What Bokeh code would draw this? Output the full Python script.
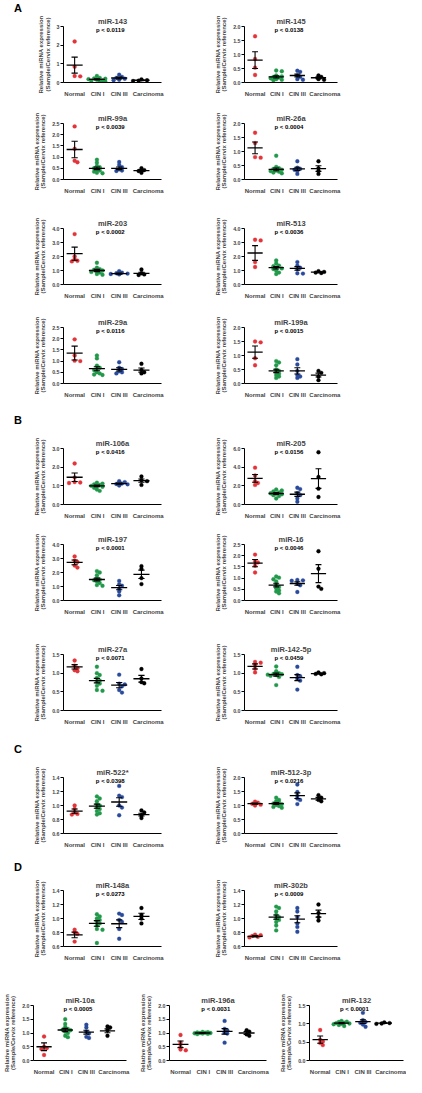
from bokeh.plotting import figure
from bokeh.layouts import column, row
from bokeh.models import Range1d, FixedTicker, NumeralTickFormatter, Label, Div
from bokeh.embed import file_html
from bokeh.resources import INLINE

CATEGORIES = ["Normal", "CIN I", "CIN III", "Carcinoma"]
LABEL_POS = [1.0, 2.03, 3.0, 4.3]
GROUP_COLORS = ["#e3343a", "#22994a", "#2a4a9c", "#000000"]
FONT = "Liberation Sans"
Y_TITLE = "Relative miRNA expression\n(Sample/Cervix reference)"

# ---------------- data (groups: Normal, CIN I, CIN III, Carcinoma) ----------------
mir143 = [[2.2, 0.85, 0.35, 0.33],
          [0.35, 0.25, 0.22, 0.2, 0.18, 0.15, 0.12, 0.1, 0.08, 0.05],
          [0.42, 0.3, 0.25, 0.2, 0.15, 0.12],
          [0.17, 0.12, 0.1, 0.08]]
mir143_mean = [0.93, 0.17, 0.24, 0.12]
mir143_sem = [0.43, 0.03, 0.05, 0.02]

mir145 = [[1.65, 0.84, 0.53, 0.27],
          [0.43, 0.4, 0.25, 0.22, 0.2, 0.18, 0.15, 0.12, 0.1, 0.08],
          [0.42, 0.38, 0.25, 0.2, 0.12, 0.1],
          [0.25, 0.2, 0.12, 0.1]]
mir145_mean = [0.8, 0.2, 0.25, 0.17]
mir145_sem = [0.3, 0.04, 0.05, 0.03]

mir99a = [[2.37, 1.37, 0.84, 0.77],
          [0.88, 0.75, 0.6, 0.55, 0.5, 0.45, 0.4, 0.35, 0.3, 0.28],
          [0.78, 0.65, 0.55, 0.45, 0.4, 0.38],
          [0.5, 0.42, 0.38, 0.3]]
mir99a_mean = [1.34, 0.5, 0.5, 0.4]
mir99a_sem = [0.37, 0.06, 0.06, 0.04]

mir26a = [[1.67, 1.3, 0.8, 0.78],
          [0.85, 0.45, 0.4, 0.38, 0.35, 0.32, 0.3, 0.28, 0.25, 0.22],
          [0.65, 0.42, 0.38, 0.35, 0.3, 0.2],
          [0.65, 0.4, 0.3, 0.2]]
mir26a_mean = [1.13, 0.36, 0.38, 0.39]
mir26a_sem = [0.21, 0.05, 0.06, 0.1]

mir203 = [[3.6, 2.0, 1.8, 1.7, 1.65],
          [1.55, 1.2, 1.1, 1.05, 1.0, 0.95, 0.9, 0.85, 0.75, 0.7],
          [0.95, 0.85, 0.8, 0.78, 0.75, 0.72],
          [1.07, 0.8, 0.72, 0.68]]
mir203_mean = [2.2, 1.0, 0.78, 0.8]
mir203_sem = [0.47, 0.08, 0.04, 0.08]

mir513 = [[3.2, 3.15, 1.6, 1.25],
          [1.72, 1.5, 1.35, 1.3, 1.2, 1.15, 1.1, 1.0, 0.85, 0.75],
          [1.6, 1.35, 1.2, 1.1, 0.8, 0.78],
          [0.95, 0.9, 0.85, 0.82]]
mir513_mean = [2.25, 1.2, 1.15, 0.88]
mir513_sem = [0.53, 0.09, 0.13, 0.03]

mir29a = [[1.97, 1.25, 1.02, 1.0],
          [1.25, 1.12, 0.8, 0.7, 0.65, 0.6, 0.5, 0.45, 0.4, 0.38],
          [0.95, 0.7, 0.65, 0.55, 0.5, 0.45],
          [0.88, 0.6, 0.5, 0.45]]
mir29a_mean = [1.36, 0.66, 0.63, 0.6]
mir29a_sem = [0.31, 0.09, 0.07, 0.09]

mir199a = [[1.5, 1.47, 0.9, 0.65],
           [0.8, 0.75, 0.65, 0.5, 0.45, 0.4, 0.35, 0.3, 0.25, 0.2],
           [0.87, 0.68, 0.45, 0.3, 0.25, 0.2],
           [0.45, 0.38, 0.25, 0.12]]
mir199a_mean = [1.12, 0.45, 0.45, 0.3]
mir199a_sem = [0.22, 0.06, 0.11, 0.07]

mir106a = [[2.2, 1.45, 1.2, 1.18, 1.15],
           [1.17, 1.12, 1.08, 1.05, 1.0, 0.98, 0.95, 0.9, 0.8, 0.73],
           [1.25, 1.2, 1.12, 1.1, 1.08, 1.02],
           [1.5, 1.3, 1.25, 1.05]]
mir106a_mean = [1.46, 1.0, 1.12, 1.28]
mir106a_sem = [0.23, 0.04, 0.03, 0.09]

mir205 = [[3.95, 3.1, 2.5, 2.3, 2.1],
          [1.6, 1.5, 1.4, 1.3, 1.2, 1.15, 1.1, 1.0, 0.9, 0.65],
          [1.8, 1.65, 1.2, 1.0, 0.65, 0.3],
          [5.6, 2.95, 1.7, 0.8]]
mir205_mean = [2.8, 1.18, 1.1, 2.78]
mir205_sem = [0.42, 0.09, 0.23, 1.05]

mir197 = [[3.15, 2.85, 2.75, 2.5, 2.35],
          [2.1, 2.0, 1.8, 1.6, 1.5, 1.45, 1.35, 1.25, 1.1, 1.05],
          [1.4, 1.15, 1.05, 0.85, 0.65, 0.37],
          [2.45, 2.25, 1.6, 1.17]]
mir197_mean = [2.72, 1.5, 0.92, 1.87]
mir197_sem = [0.17, 0.1, 0.15, 0.3]

mir16 = [[2.05, 1.75, 1.7, 1.55, 1.25],
         [1.07, 1.02, 0.95, 0.85, 0.7, 0.6, 0.55, 0.45, 0.4, 0.32],
         [0.92, 0.9, 0.88, 0.75, 0.68, 0.38],
         [2.2, 1.42, 0.62, 0.52]]
mir16_mean = [1.67, 0.69, 0.76, 1.2]
mir16_sem = [0.16, 0.08, 0.08, 0.4]

mir27a = [[1.34, 1.2, 1.13, 1.08, 1.05],
          [1.17, 1.0, 0.95, 0.87, 0.8, 0.77, 0.72, 0.66, 0.55, 0.53],
          [0.96, 0.72, 0.7, 0.65, 0.55, 0.48],
          [1.11, 0.86, 0.76, 0.73]]
mir27a_mean = [1.17, 0.8, 0.68, 0.85]
mir27a_sem = [0.06, 0.06, 0.07, 0.09]

mir142 = [[1.3, 1.28, 1.22, 1.12, 1.02],
          [1.18, 1.05, 1.0, 0.98, 0.97, 0.96, 0.95, 0.93, 0.9, 0.68],
          [1.17, 0.95, 0.92, 0.85, 0.8, 0.56],
          [1.02, 1.0, 0.98, 0.97]]
mir142_mean = [1.18, 0.96, 0.88, 0.99]
mir142_sem = [0.07, 0.04, 0.08, 0.01]

mir522 = [[1.0, 0.95, 0.9, 0.88, 0.87],
          [1.13, 1.1, 1.06, 1.02, 1.0, 0.97, 0.95, 0.92, 0.89, 0.87],
          [1.28, 1.14, 1.12, 1.0, 0.97, 0.86],
          [0.93, 0.9, 0.86, 0.82]]
mir522_mean = [0.92, 0.99, 1.05, 0.87]
mir522_sem = [0.03, 0.03, 0.06, 0.02]

mir512 = [[1.14, 1.1, 1.06, 1.03, 1.0],
          [1.28, 1.2, 1.15, 1.1, 1.07, 1.05, 1.02, 0.98, 0.95, 0.92],
          [1.75, 1.48, 1.35, 1.25, 1.2, 1.05],
          [1.37, 1.28, 1.2, 1.15]]
mir512_mean = [1.07, 1.07, 1.35, 1.24]
mir512_sem = [0.02, 0.035, 0.1, 0.05]

mir148a = [[0.84, 0.8, 0.78, 0.67],
           [1.06, 1.03, 1.0, 0.98, 0.96, 0.93, 0.9, 0.85, 0.84, 0.65],
           [1.07, 1.05, 0.98, 0.95, 0.85, 0.71],
           [1.15, 1.05, 1.0, 0.93]]
mir148a_mean = [0.765, 0.93, 0.925, 1.03]
mir148a_sem = [0.04, 0.04, 0.055, 0.045]

mir302b = [[0.77, 0.76, 0.75, 0.74, 0.73],
           [1.17, 1.15, 1.1, 1.05, 1.02, 1.0, 0.98, 0.95, 0.9, 0.83],
           [1.15, 1.1, 1.02, 0.93, 0.88, 0.81],
           [1.2, 1.08, 1.02, 0.97]]
mir302b_mean = [0.745, 1.02, 0.99, 1.07]
mir302b_sem = [0.01, 0.03, 0.05, 0.05]

mir10a = [[0.87, 0.5, 0.45, 0.42, 0.2],
          [1.5, 1.33, 1.22, 1.15, 1.12, 1.1, 1.05, 1.0, 0.9, 0.85],
          [1.3, 1.2, 1.05, 0.98, 0.86, 0.82],
          [1.24, 1.2, 1.1, 0.9]]
mir10a_mean = [0.5, 1.11, 1.03, 1.08]
mir10a_sem = [0.14, 0.06, 0.07, 0.07]

mir196a = [[0.93, 0.65, 0.5, 0.4, 0.37],
           [1.04, 1.03, 1.02, 1.01, 1.0, 1.0, 0.99, 0.98, 0.97, 0.96],
           [1.44, 1.15, 1.1, 1.02, 0.98, 0.65],
           [1.1, 1.05, 0.95, 0.9]]
mir196a_mean = [0.59, 1.0, 1.06, 1.0]
mir196a_sem = [0.12, 0.01, 0.1, 0.05]

mir132 = [[0.83, 0.57, 0.52, 0.48, 0.42],
          [1.08, 1.06, 1.05, 1.03, 1.02, 1.01, 1.0, 0.99, 0.97, 0.94],
          [1.3, 1.1, 1.05, 1.03, 0.98, 0.92],
          [1.04, 1.02, 1.01, 1.0]]
mir132_mean = [0.57, 1.02, 1.06, 1.02]
mir132_sem = [0.1, 0.015, 0.05, 0.01]

# (title, p text, values, mean, sem, y min, y max, y ticks, tick format)
PANELS = {
    "143": ("miR-143", "p < 0.0119", mir143, mir143_mean, mir143_sem, 0, 3, [0, 1, 2, 3], "0"),
    "145": ("miR-145", "p < 0.0138", mir145, mir145_mean, mir145_sem, 0, 2, [0, 0.5, 1, 1.5, 2], "0.0"),
    "99a": ("miR-99a", "p < 0.0039", mir99a, mir99a_mean, mir99a_sem, 0, 2.5, [0, 0.5, 1, 1.5, 2, 2.5], "0.0"),
    "26a": ("miR-26a", "p < 0.0004", mir26a, mir26a_mean, mir26a_sem, 0, 2, [0, 0.5, 1, 1.5, 2], "0.0"),
    "203": ("miR-203", "p < 0.0002", mir203, mir203_mean, mir203_sem, 0, 4, [0, 1, 2, 3, 4], "0.0"),
    "513": ("miR-513", "p < 0.0036", mir513, mir513_mean, mir513_sem, 0, 4, [0, 1, 2, 3, 4], "0.0"),
    "29a": ("miR-29a", "p < 0.0116", mir29a, mir29a_mean, mir29a_sem, 0, 2.5, [0, 0.5, 1, 1.5, 2, 2.5], "0.0"),
    "199a": ("miR-199a", "p < 0.0015", mir199a, mir199a_mean, mir199a_sem, 0, 2, [0, 0.5, 1, 1.5, 2], "0.0"),
    "106a": ("miR-106a", "p < 0.0416", mir106a, mir106a_mean, mir106a_sem, 0, 3, [0, 1, 2, 3], "0.0"),
    "205": ("miR-205", "p < 0.0156", mir205, mir205_mean, mir205_sem, 0, 6, [0, 2, 4, 6], "0.0"),
    "197": ("miR-197", "p < 0.0001", mir197, mir197_mean, mir197_sem, 0, 4, [0, 1, 2, 3, 4], "0.0"),
    "16": ("miR-16", "p < 0.0046", mir16, mir16_mean, mir16_sem, 0, 2.5, [0, 0.5, 1, 1.5, 2, 2.5], "0.0"),
    "27a": ("miR-27a", "p < 0.0071", mir27a, mir27a_mean, mir27a_sem, 0, 1.5, [0, 0.5, 1, 1.5], "0.0"),
    "142": ("miR-142-5p", "p < 0.0459", mir142, mir142_mean, mir142_sem, 0, 1.5, [0, 0.5, 1, 1.5], "0.0"),
    "522": ("miR-522*", "p < 0.0398", mir522, mir522_mean, mir522_sem, 0.6, 1.4, [0.6, 0.8, 1.0, 1.2, 1.4], "0.0"),
    "512": ("miR-512-3p", "p < 0.0216", mir512, mir512_mean, mir512_sem, 0, 2, [0, 0.5, 1, 1.5, 2], "0.0"),
    "148a": ("miR-148a", "p < 0.0273", mir148a, mir148a_mean, mir148a_sem, 0.6, 1.4, [0.6, 0.8, 1.0, 1.2, 1.4], "0.0"),
    "302b": ("miR-302b", "p < 0.0009", mir302b, mir302b_mean, mir302b_sem, 0.6, 1.4, [0.6, 0.8, 1.0, 1.2, 1.4], "0.0"),
    "10a": ("miR-10a", "p < 0.0005", mir10a, mir10a_mean, mir10a_sem, 0, 2, [0, 0.5, 1, 1.5, 2], "0.0"),
    "196a": ("miR-196a", "p < 0.0031", mir196a, mir196a_mean, mir196a_sem, 0, 2, [0, 0.5, 1, 1.5, 2], "0.0"),
    "132": ("miR-132", "p < 0.0001", mir132, mir132_mean, mir132_sem, 0, 1.5, [0, 0.5, 1, 1.5], "0.0"),
}

X0, X1 = 0.5, 4.9
FRAME_H = 61


def swarm(vals, px_per_y, px_per_x, diam=3.0, step=2.8, kmax=3):
    """Deterministic beeswarm-like horizontal placement, limited spread (overlap allowed)."""
    order = sorted(range(len(vals)), key=lambda i: -vals[i])
    placed = []
    offs = [0.0] * len(vals)
    cands = [0.0]
    for k in range(1, kmax + 1):
        cands += [k * step, -k * step]
    for i in order:
        yv = vals[i] * px_per_y
        best, best_d = cands[0], -1.0
        for c in cands:
            d = min([((px - c) ** 2 + (py - yv) ** 2) ** 0.5 for (px, py) in placed] or [99.0])
            if d >= diam:
                best = c
                break
            if d > best_d + 0.3:
                best, best_d = c, d
        placed.append((best, yv))
        offs[i] = best / px_per_x
    return offs


def make_panel(key, width, height, mbl, mbr, mbt):
    title, ptxt, vals, means, sems, ymin, ymax, ticks, fmt = PANELS[key]
    mbb = height - mbt - FRAME_H
    p = figure(width=width, height=height, x_range=Range1d(X0, X1), y_range=Range1d(ymin, ymax),
               output_backend="svg", toolbar_location=None, title=title,
               min_border_left=mbl, min_border_right=mbr, min_border_top=mbt, min_border_bottom=mbb)
    p.title.align = "center"
    p.title.text_font = FONT
    p.title.text_font_style = "bold"
    p.title.text_font_size = "7.5px"
    p.title.standoff = 2
    p.title.offset = -2
    p.xgrid.visible = False
    p.ygrid.visible = False
    p.outline_line_color = None
    p.background_fill_color = "white"
    p.border_fill_color = "white"

    xa = p.xaxis[0]
    xa.ticker = FixedTicker(ticks=LABEL_POS)
    xa.major_label_overrides = {LABEL_POS[i]: c for i, c in enumerate(CATEGORIES)}
    xa.major_tick_line_color = None
    xa.minor_tick_line_color = None
    xa.major_label_text_font = FONT
    xa.major_label_text_font_style = "bold"
    xa.major_label_text_font_size = "6px"
    xa.major_label_standoff = 2
    xa.axis_line_width = 1
    xa.axis_line_color = "black"

    ya = p.yaxis[0]
    ya.ticker = FixedTicker(ticks=ticks)
    ya.formatter = NumeralTickFormatter(format=fmt)
    ya.minor_tick_line_color = None
    ya.major_tick_out = 3
    ya.major_tick_in = 0
    ya.major_tick_line_width = 1
    ya.axis_line_width = 1
    ya.axis_line_color = "black"
    ya.major_label_text_font = FONT
    ya.major_label_text_font_style = "bold"
    ya.major_label_text_font_size = "5.3px"
    ya.major_label_standoff = 1
    ya.axis_label = Y_TITLE
    ya.axis_label_text_font = FONT
    ya.axis_label_text_font_style = "bold"
    ya.axis_label_text_font_size = "6px"
    ya.axis_label_text_line_height = 1.1
    ya.axis_label_standoff = 3

    frame_w = width - mbl - mbr
    px_per_x = frame_w / (X1 - X0)
    px_per_y = FRAME_H / (ymax - ymin)

    for g, gv in enumerate(vals):
        offs = swarm(gv, px_per_y, px_per_x)
        xs = [g + 1 + o for o in offs]
        p.scatter(xs, gv, marker="circle", size=3.9, fill_color=GROUP_COLORS[g],
                  line_color=GROUP_COLORS[g], line_width=0.3)

    cx = [g + 1 for g in range(4)]
    p.segment(x0=[c - 0.36 for c in cx], x1=[c + 0.36 for c in cx], y0=means, y1=means,
              line_color="black", line_width=1.3)
    lo = [m - s for m, s in zip(means, sems)]
    hi = [m + s for m, s in zip(means, sems)]
    p.segment(x0=cx, x1=cx, y0=lo, y1=hi, line_color="black", line_width=1.1)
    p.segment(x0=[c - 0.14 for c in cx], x1=[c + 0.14 for c in cx], y0=hi, y1=hi,
              line_color="black", line_width=1.1)
    p.segment(x0=[c - 0.14 for c in cx], x1=[c + 0.14 for c in cx], y0=lo, y1=lo,
              line_color="black", line_width=1.1)

    midx = (X0 + X1) / 2 - 0.1
    p.add_layout(Label(x=midx, y=ymax, y_offset=0, text=ptxt, text_align="center",
                       text_baseline="top", text_font=FONT, text_font_style="bold",
                       text_font_size="6px", text_color="black"))
    return p


def letter_div(letter, h, pad):
    html = ('<div style="padding-top:%dpx;padding-left:14px;font-family:\'Liberation Sans\',Arial,sans-serif;'
            'font-weight:bold;font-size:11px;line-height:11px;color:#000;">%s</div>' % (pad, letter))
    return Div(text=html, width=406, height=h, margin=(0, 0, 0, 0))


LW, RW = 202, 204
LB, LR = 63, 41
RB, RR = 42, 69


def two(kl, kr, h, tl, tr):
    return row(make_panel(kl, LW, h, LB, LR, tl),
               make_panel(kr, RW, h, RB, RR, tr), spacing=0)


rows = [
    letter_div("A", 12, 1),
    two("143", "145", 87, 14, 14),
    two("99a", "26a", 97, 24, 24),
    two("203", "513", 105, 32, 27),
    two("29a", "199a", 99, 26, 26),
    letter_div("B", 29, 15),
    two("106a", "205", 92, 19, 17),
    two("197", "16", 96, 23, 23),
    two("27a", "142", 110, 37, 34),
    letter_div("C", 30, 17),
    two("522", "512", 93, 20, 20),
    letter_div("D", 24, 12),
    two("148a", "302b", 89, 16, 14),
    row(make_panel("10a", 136, 114, 28, 10, 42),
        make_panel("196a", 140, 114, 27, 10, 42),
        make_panel("132", 130, 114, 27, 3, 42), spacing=0),
]

layout = column(*rows, spacing=0)
open("out.html", "w").write(file_html(layout, INLINE))
